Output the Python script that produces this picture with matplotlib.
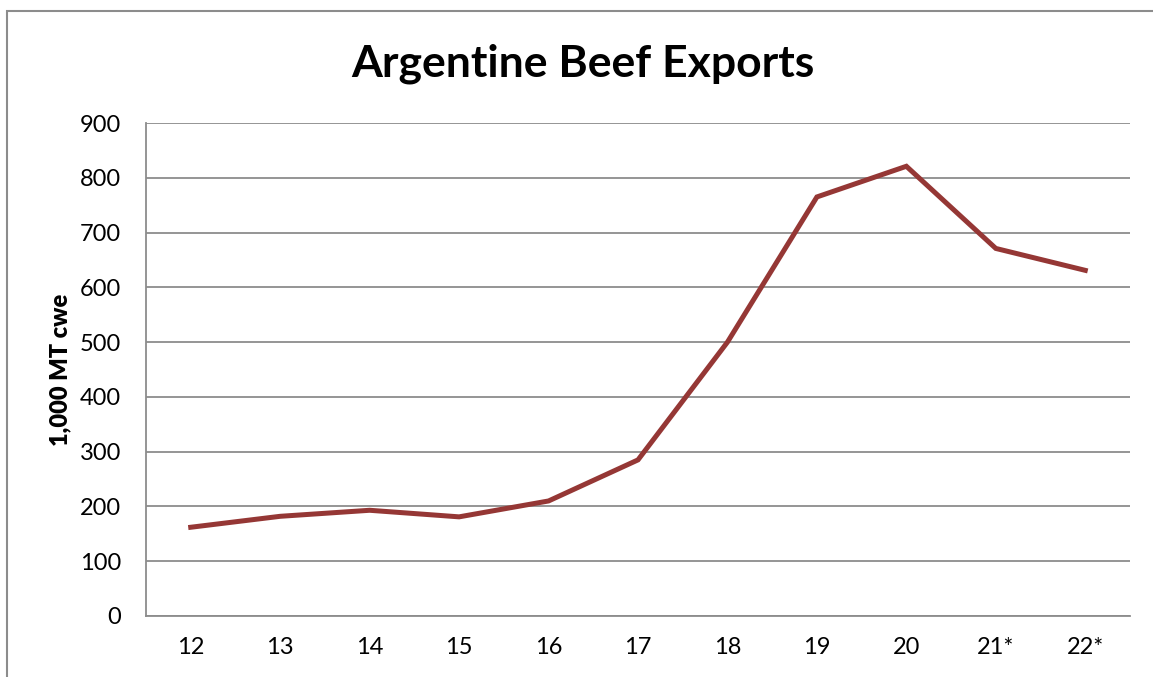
import matplotlib
matplotlib.use('Agg')
import matplotlib.pyplot as plt
from matplotlib.patches import Rectangle

years = ['12', '13', '14', '15', '16', '17', '18', '19', '20', '21*', '22*']
exports = [162, 182, 193, 181, 210, 285, 500, 765, 821, 671, 631]
yticks = [0, 100, 200, 300, 400, 500, 600, 700, 800, 900]

plt.rcParams['font.family'] = ['Lato', 'DejaVu Sans']

W, H = 1153, 677
fig = plt.figure(figsize=(W / 100, H / 100), dpi=100)
# outer chart border, cut off at the right and bottom edges
fig.patches.append(Rectangle((7 / W, -0.5), 2, (H - 11) / H + 0.5, transform=fig.transFigure,
                             fill=False, edgecolor='#8c8c8c', linewidth=1.5))

ax = fig.add_axes([146 / W, 1 - 616 / H, (1130 - 146) / W, (616 - 123) / H])
x = range(len(years))
ax.plot(x, exports, color='#953735', linewidth=3.6, solid_joinstyle='miter')

ax.set_xlim(-0.5, len(years) - 0.5)
ax.set_ylim(0, 900)
ax.set_yticks(yticks)
ax.set_xticks(list(x))
ax.set_xticklabels(years)
ax.yaxis.grid(True, color='#8c8c8c', linewidth=1.3)
ax.set_axisbelow(True)
for s in ['top', 'right']:
    ax.spines[s].set_visible(False)
for s in ['left', 'bottom']:
    ax.spines[s].set_color('#8c8c8c')
    ax.spines[s].set_linewidth(1.3)
ax.tick_params(axis='both', length=0, labelsize=17, colors='black')
ax.tick_params(axis='x', pad=15)
ax.tick_params(axis='y', pad=18)

ax.set_ylabel('1,000 MT cwe', fontsize=17, fontweight='heavy', labelpad=6)
fig.text(583 / W, 1 - 64 / H, 'Argentine Beef Exports', ha='center', va='center',
         fontsize=32, fontweight='bold')

fig.savefig('out.png', dpi=100)
